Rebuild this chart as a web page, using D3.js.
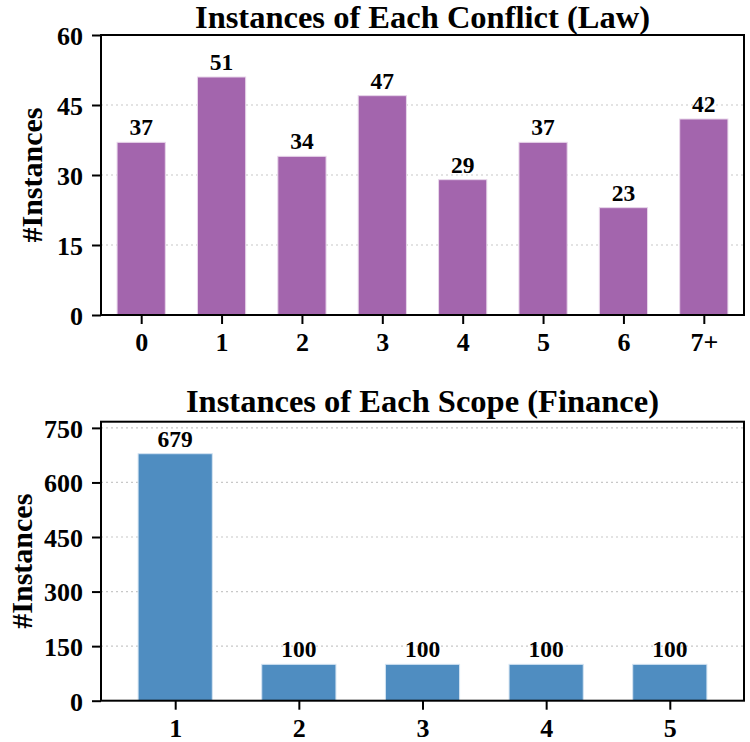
<!DOCTYPE html>
<html><head><meta charset="utf-8">
<script src="https://cdn.jsdelivr.net/npm/d3@7"></script>
<style>body{margin:0;background:#fff}</style>
</head><body>
<script>
const lawCats = ["0","1","2","3","4","5","6","7+"];
const lawVals = [37,51,34,47,29,37,23,42];
const lawTicks = [0,15,30,45,60];
const finCats = ["1","2","3","4","5"];
const finVals = [679,100,100,100,100];
const finTicks = [0,150,300,450,600,750];

const W = 750, H = 742;
const svg = d3.select("body").append("svg").attr("width", W).attr("height", H);
const FONT = "'Liberation Serif','Times New Roman',serif";

function panel(cfg) {
  const {cats, vals, ticks, ymax, top, bottom, left, right, pad, color, edge, title, titleY, ylabelX} = cfg;
  const x = d3.scaleLinear().domain([-pad, cats.length - 1 + pad]).range([left, right]);
  const y = d3.scaleLinear().domain([0, ymax]).range([bottom, top]);
  const g = svg.append("g");
  g.selectAll(".grid").data(ticks.filter(t => t > 0)).join("line")
    .attr("x1", left).attr("x2", right).attr("y1", d => y(d)).attr("y2", d => y(d))
    .attr("stroke", "#c8c8c8").attr("stroke-width", 1.2).attr("stroke-dasharray", "2,3");
  const bw = 0.6;
  g.selectAll(".bar").data(vals).join("rect")
    .attr("x", (d, i) => x(i - bw / 2)).attr("width", x(bw) - x(0))
    .attr("y", d => y(d)).attr("height", d => y(0) - y(d))
    .attr("fill", color).attr("stroke", edge).attr("stroke-width", 1);
  g.selectAll(".lbl").data(vals).join("text")
    .attr("x", (d, i) => x(i)).attr("y", d => y(d) - 7)
    .attr("text-anchor", "middle").attr("font-family", FONT).attr("font-weight", "bold")
    .attr("font-size", 23.5).text(d => d);
  g.append("rect").attr("x", left).attr("y", top).attr("width", right - left).attr("height", bottom - top)
    .attr("fill", "none").attr("stroke", "#000").attr("stroke-width", 2);
  const xa = g.append("g").attr("transform", `translate(0,${bottom})`)
    .call(d3.axisBottom(x).tickValues(d3.range(cats.length)).tickFormat(i => cats[i]).tickSize(9).tickPadding(9));
  const ya = g.append("g").attr("transform", `translate(${left},0)`)
    .call(d3.axisLeft(y).tickValues(ticks).tickSize(9).tickPadding(9));
  [xa, ya].forEach(a => {
    a.select(".domain").remove();
    a.selectAll(".tick line").attr("stroke", "#000").attr("stroke-width", 2);
    a.selectAll("text").attr("font-family", FONT).attr("font-weight", "bold").attr("font-size", 26).attr("fill", "#000");
  });
  ya.selectAll("text").attr("dy", "0.36em");
  g.append("text").attr("x", (left + right) / 2).attr("y", titleY).attr("text-anchor", "middle")
    .attr("font-family", FONT).attr("font-weight", "bold").attr("font-size", 32.5).text(title);
  g.append("text").attr("transform", `translate(${ylabelX},${(top + bottom) / 2}) rotate(-90)`)
    .attr("text-anchor", "middle").attr("font-family", FONT).attr("font-weight", "bold")
    .attr("font-size", 30).text("#Instances");
}

panel({cats: lawCats, vals: lawVals, ticks: lawTicks, ymax: 60, top: 35, bottom: 315, left: 101, right: 744,
  pad: 0.5, color: "#a365ad", edge: "#e8d6ea", title: "Instances of Each Conflict (Law)", titleY: 28, ylabelX: 42});
panel({cats: finCats, vals: finVals, ticks: finTicks, ymax: 767, top: 421.7, bottom: 700.7, left: 101, right: 744,
  pad: 0.6, color: "#4f8dc1", edge: "#d4e4f2", title: "Instances of Each Scope (Finance)", titleY: 411.5, ylabelX: 32});
</script>
</body></html>
